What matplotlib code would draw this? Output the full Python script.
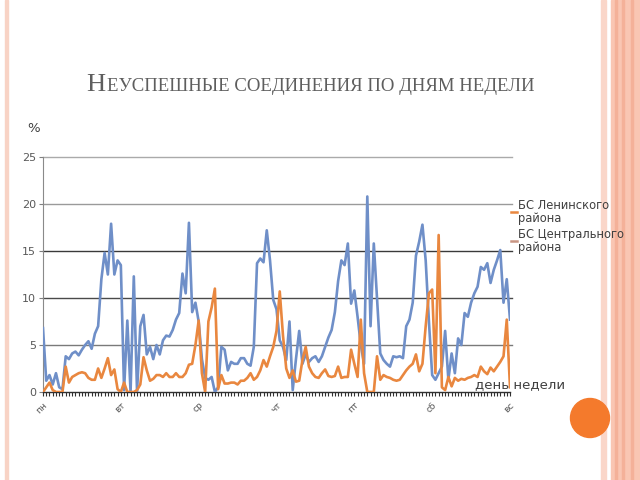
import numpy as np
import matplotlib
matplotlib.use("Agg")
import matplotlib.pyplot as plt
from matplotlib.patches import Rectangle, Circle
from matplotlib.lines import Line2D

days = ["пн", "вт", "ср", "чт", "пт", "сб", "вс"]

central = [
    6.8, 1.2, 1.8, 0.8, 2.0, 0.5, 0.3, 3.8, 3.5, 4.1, 4.3, 3.9, 4.5, 5.0, 5.4, 4.6, 6.2, 7.0, 12.0, 14.8, 12.5, 17.9, 12.5, 14.0,
    13.5, 0.2, 7.6, 0.0, 12.3, 0.0, 7.0, 8.2, 4.0, 4.8, 3.5, 5.0, 4.0, 5.5, 6.0, 5.9, 6.6, 7.7, 8.4, 12.6, 10.5, 18.0, 8.5, 9.5,
    7.5, 3.5, 1.5, 1.3, 1.6, 0.0, 0.5, 4.8, 4.5, 2.3, 3.2, 3.0, 3.0, 3.6, 3.6, 3.0, 2.8, 4.8, 13.7, 14.2, 13.8, 17.2, 14.0, 9.8,
    8.8, 5.5, 4.8, 3.4, 7.5, 0.2, 3.5, 6.5, 3.0, 4.0, 3.2, 3.6, 3.8, 3.2, 3.8, 4.8, 5.8, 6.6, 8.5, 11.8, 14.0, 13.5, 15.8, 9.4,
    10.8, 8.0, 5.0, 3.0, 20.8, 7.0, 15.8, 10.0, 4.1, 3.4, 3.0, 2.7, 3.8, 3.7, 3.8, 3.6, 7.0, 7.7, 9.5, 14.5, 16.0, 17.8, 14.0, 7.5,
    1.8, 1.3, 2.0, 2.7, 6.5, 1.3, 4.1, 2.0, 5.7, 5.0, 8.4, 8.0, 9.5, 10.5, 11.2, 13.3, 13.0, 13.7, 11.6, 13.0, 14.0, 15.1, 9.5, 12.0,
    7.7,
]

leninsky = [
    0.0, 0.5, 1.0, 0.2, 0.0, 0.0, 0.0, 2.7, 1.0, 1.6, 1.8, 2.0, 2.1, 2.0, 1.5, 1.3, 1.3, 2.5, 1.5, 2.5, 3.6, 1.8, 2.4, 0.3,
    0.0, 1.0, 0.0, 0.0, 0.0, 0.2, 0.8, 3.7, 2.3, 1.2, 1.4, 1.8, 1.8, 1.6, 2.0, 1.6, 1.6, 2.0, 1.6, 1.6, 2.0, 2.9, 3.0, 5.0,
    7.6, 2.0, 0.0, 7.5, 9.0, 11.0, 0.3, 1.8, 0.9, 0.9, 1.0, 1.0, 0.8, 1.2, 1.2, 1.5, 2.0, 1.3, 1.6, 2.3, 3.4, 2.7, 3.8, 4.8,
    6.5, 10.7, 6.0, 2.5, 1.5, 2.3, 1.1, 1.2, 3.4, 4.8, 2.7, 2.0, 1.6, 1.5, 2.0, 2.4, 1.7, 1.6, 1.7, 2.7, 1.5, 1.6, 1.6, 4.5,
    3.0, 1.6, 7.7, 2.0, 0.0, 0.0, 0.0, 3.8, 1.3, 1.8, 1.6, 1.5, 1.3, 1.2, 1.3, 1.8, 2.3, 2.7, 3.0, 4.0, 2.2, 3.0, 7.0, 10.5,
    10.9, 2.0, 16.7, 0.5, 0.2, 1.6, 0.6, 1.5, 1.2, 1.4, 1.3, 1.5, 1.6, 1.8, 1.6, 2.7, 2.2, 1.9, 2.6, 2.2, 2.7, 3.2, 3.8, 7.7,
    0.5,
]

legend_labels = ["БС Ленинского\nрайона", "БС Центрального\nрайона"]

BLUE = "#6F8FC8"
ORANGE = "#E9873F"
GRAY = "#595959"

W, H = 640, 480
fig = plt.figure(figsize=(6.4, 4.8), dpi=100)
fig.patch.set_facecolor("white")

# slide decorations
fig.patches.append(Rectangle((5 / W, 0), 3 / W, 1, transform=fig.transFigure, color="#F8D3C5", zorder=0))
fig.patches.append(Rectangle((601 / W, 0), 5 / W, 1, transform=fig.transFigure, color="#FAD6C9", zorder=0))
fig.patches.append(Rectangle((611 / W, 0), 29 / W, 1, transform=fig.transFigure, color="#F9C6B3", zorder=0))
for xx in (615, 622, 631):
    fig.patches.append(Rectangle((xx / W, 0), 1.5 / W, 1, transform=fig.transFigure, color="#F4B199", zorder=0))
fig.patches.append(Circle((5.90, 0.62), 0.195, transform=fig.dpi_scale_trans, color="#F47A2C", zorder=1))

ax = fig.add_axes([43 / W, 1 - 392 / H, (510 - 43) / W, (392 - 157) / H])
x = np.arange(len(central))
ax.plot(x, central, color=BLUE, lw=1.9, solid_joinstyle="round", zorder=3)
ax.plot(x, leninsky, color=ORANGE, lw=1.9, solid_joinstyle="round", zorder=4)

ax.set_xlim(0, 144)
ax.set_ylim(0, 25)
grid_colors = {5: "#7a7a7a", 10: "#4a4a4a", 15: "#3a3a3a", 20: "#9a9a9a", 25: "#aaaaaa"}
for yv, c in grid_colors.items():
    ax.axhline(yv, color=c, lw=1.0, zorder=1, clip_on=False, xmax=1.005)
ax.set_yticks([0, 5, 10, 15, 20, 25])
ax.tick_params(axis="y", length=3, color="#808080", labelsize=8, labelcolor=GRAY, pad=2)
ax.set_xticks(np.arange(0, 145, 24))
ax.set_xticks(np.arange(0, 145, 1), minor=True)
ax.set_xticklabels(days, rotation=45, ha="right", va="top", rotation_mode="anchor",
                   fontsize=6.5, color=GRAY)
ax.tick_params(axis="x", which="both", length=3, color="#303030", width=0.8, pad=3)
for s in ("top", "right"):
    ax.spines[s].set_visible(False)
ax.spines["left"].set_color("#8a8a8a")
ax.spines["bottom"].set_color("#303030")
ax.spines["bottom"].set_linewidth(1.0)
ax.set_facecolor("none")

# % label
fig.text(27 / W, 1 - 128 / H, "%", fontsize=9.5, color="#404040", va="center", ha="left")
# x axis title
fig.text(475 / W, 1 - 385 / H, "день недели", fontsize=9.5, color="#404040", va="center", ha="left")

# legend (manual)
leg_colors = [ORANGE, "#C99583"]
leg_y = [212, 241]
for lab, c, yy in zip(legend_labels, leg_colors, leg_y):
    fig.add_artist(Line2D([511 / W, 517 / W], [1 - yy / H] * 2, transform=fig.transFigure, color=c, lw=1.8))
    fig.text(518 / W, 1 - yy / H, lab, fontsize=8.3, color="#404040", va="center", ha="left",
             linespacing=1.0, zorder=5)

# small-caps title
fig.canvas.draw()
r = fig.canvas.get_renderer()
base_y = 1 - 91 / H
t1 = fig.text(0, base_y, "Н", fontsize=19, family="Liberation Serif", color="#5e5e5e", va="baseline")
t2 = fig.text(0, base_y, "ЕУСПЕШНЫЕ СОЕДИНЕНИЯ ПО ДНЯМ НЕДЕЛИ", fontsize=13.5, family="Liberation Serif",
              color="#5e5e5e", va="baseline")
w1 = t1.get_window_extent(r).width
w2 = t2.get_window_extent(r).width
x0 = 310 - (w1 + w2) / 2
t1.set_x(x0 / W)
t2.set_x((x0 + w1 + 1) / W)

fig.savefig("out.png", dpi=100)
